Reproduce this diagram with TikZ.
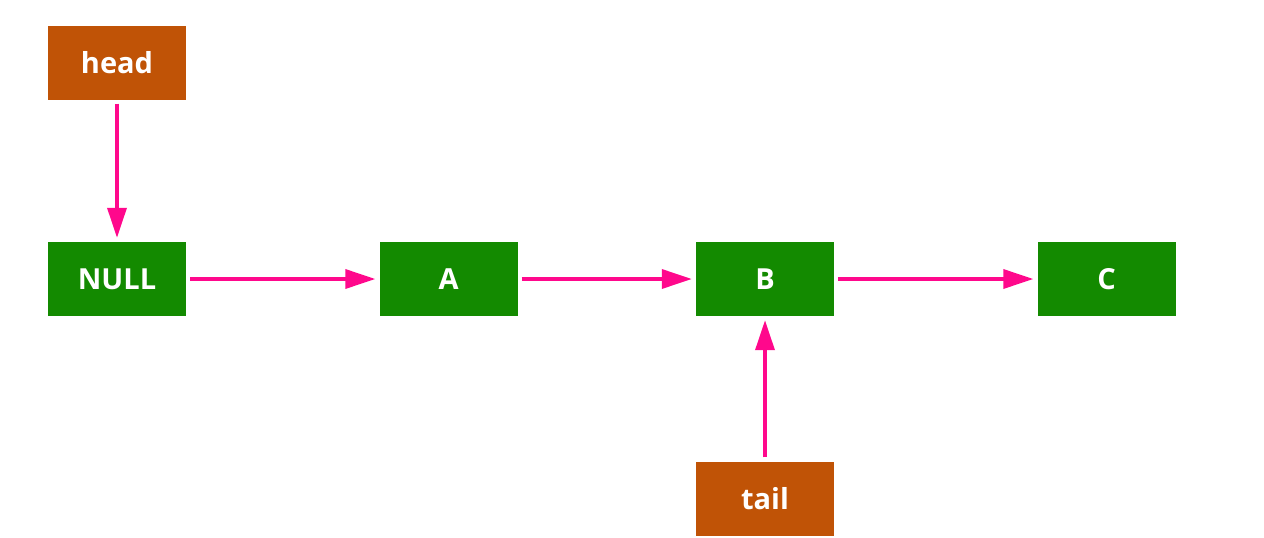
\documentclass[tikz,border=0pt]{standalone}
\usepackage{fontspec}
\setmainfont{Open Sans}
\usepackage{tikz}
\usetikzlibrary{arrows.meta}
\definecolor{listgreen}{RGB}{19,138,0}
\definecolor{ptrbrown}{RGB}{192,83,6}
\definecolor{linkpink}{RGB}{255,8,140}

\begin{document}
\begin{tikzpicture}[x=1pt,y=-1pt]
    \newcommand{\rowy}{279}
    \tikzstyle{link} = [line width=3.5pt,draw=linkpink,-{Triangle[length=30pt,width=19pt]},shorten <=4pt,shorten >=4pt]
    \tikzstyle{elem}=[
      rectangle,
      fill=listgreen,
      anchor=center,
      text=white,
      font=\fontsize{29}{32}\selectfont\bfseries,
      minimum width=138pt,
      minimum height=74pt,
    ]
    \tikzstyle{ptr}=[elem,fill=ptrbrown]
    \useasboundingbox (0,0) rectangle (1264,538);

    \node[ptr] (nHead) at (117,62.5) {head};
    \node[elem] (nNull) at (117,\rowy) {NULL};
    \node[elem] (nA) at (448.5,\rowy) {A};
    \node[elem] (nB) at (765,\rowy) {B};
    \node[elem] (nC) at (1106.5,\rowy) {C};
    \node[ptr] (nTail) at (765,498.5) {tail};

    \draw[link] (nHead)--(nNull);
    \draw[link] (nNull)--(nA);
    \draw[link] (nA)--(nB);
    \draw[link] (nB)--(nC);
    \draw[link] (nTail)--(nB);
  \end{tikzpicture}
\end{document}
